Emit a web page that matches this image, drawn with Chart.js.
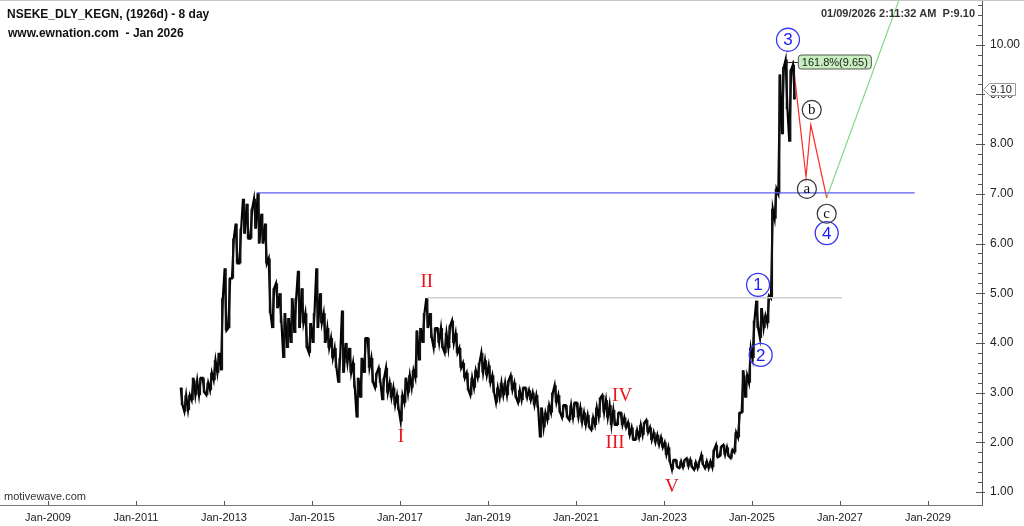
<!DOCTYPE html>
<html>
<head>
<meta charset="utf-8">
<script src="https://cdn.jsdelivr.net/npm/chart.js@4.4.1/dist/chart.umd.min.js"></script>
<style>
  html, body { margin: 0; padding: 0; background: #fff; }
  #wrap { width: 1024px; height: 526px; }
</style>
</head>
<body>
<div id="wrap"><canvas id="chart" width="1024" height="526"></canvas></div>
<script>
// ====== PRICE DATA: monthly low / high, one row per year from Jan 2012 ======
const firstYear = 2012;
const lows = [
  2.75, 2.62, 2.65, 2.85, 2.95, 2.95, 3.00, 2.95, 3.05, 3.25, 3.40, 3.45, // 2012
  4.25, 4.30, 5.30, 5.60, 5.60, 6.20, 6.10, 6.10, 6.30, 6.00, 6.00, 5.60, // 2013
  4.60, 4.30, 4.70, 4.40, 3.70, 3.90, 4.00, 4.20, 4.30, 4.40, 3.90, 3.80, // 2014
  4.00, 4.30, 4.40, 4.00, 3.90, 3.70, 3.50, 3.20, 3.40, 3.60, 3.40, 3.10, // 2015
  2.50, 2.90, 3.40, 3.50, 3.20, 3.10, 3.20, 2.85, 3.00, 2.90, 2.75, 2.65, // 2016
  2.42, 2.80, 3.00, 3.10, 3.30, 3.65, 4.00, 4.30, 4.10, 3.90, 4.00, 3.90, // 2017
  3.80, 3.90, 4.00, 3.80, 3.50, 3.30, 3.05, 2.95, 3.10, 3.30, 3.40, 3.35, // 2018
  3.20, 3.00, 2.80, 2.90, 2.95, 2.95, 3.05, 2.90, 2.80, 2.85, 2.90, 2.85, // 2019
  2.75, 2.70, 2.10, 2.30, 2.45, 2.60, 2.80, 2.60, 2.50, 2.50, 2.45, 2.50, // 2020
  2.50, 2.40, 2.35, 2.30, 2.25, 2.35, 2.50, 2.60, 2.50, 2.35, 2.35, 2.35, // 2021
  2.35, 2.30, 2.15, 2.05, 2.05, 2.10, 2.15, 2.20, 2.05, 2.00, 1.95, 1.90, // 2022
  1.75, 1.60, 1.45, 1.50, 1.48, 1.50, 1.52, 1.50, 1.45, 1.48, 1.55, 1.48, // 2023
  1.48, 1.50, 1.70, 1.72, 1.75, 1.72, 1.68, 1.80, 2.10, 2.60, 2.90, 3.20, // 2024
  3.70, 4.30, 4.10, 4.30, 4.40, 4.90, 6.50, 7.00, 8.20, 8.70, 8.05, 8.90  // 2025
];
const highs = [
  3.10, 2.95, 2.95, 3.30, 3.25, 3.30, 3.30, 3.20, 3.40, 3.65, 3.80, 4.90, // 2012
  5.50, 5.30, 6.10, 6.40, 6.30, 6.90, 6.80, 6.70, 6.90, 7.02, 6.60, 6.40, // 2013
  5.70, 5.10, 5.20, 5.00, 4.60, 4.50, 4.90, 4.90, 5.45, 5.10, 4.60, 4.40, // 2014
  4.60, 5.50, 5.00, 4.60, 4.30, 4.10, 3.90, 3.70, 4.65, 4.00, 3.90, 3.60, // 2015
  3.30, 3.70, 4.10, 4.10, 3.70, 3.40, 3.50, 3.30, 3.50, 3.20, 3.10, 2.95, // 2016
  2.95, 3.30, 3.35, 3.45, 4.25, 4.30, 4.60, 4.90, 4.60, 4.30, 4.30, 4.30, // 2017
  4.20, 4.35, 4.45, 4.20, 3.90, 3.60, 3.40, 3.30, 3.45, 3.60, 3.80, 3.65, // 2018
  3.55, 3.35, 3.10, 3.20, 3.20, 3.25, 3.35, 3.20, 3.05, 3.10, 3.10, 3.05, // 2019
  3.00, 2.95, 2.70, 2.60, 2.75, 3.00, 3.15, 2.95, 2.75, 2.75, 2.75, 2.80, // 2020
  2.80, 2.70, 2.60, 2.55, 2.50, 2.70, 2.90, 2.95, 2.85, 2.75, 2.65, 2.60, // 2021
  2.60, 2.50, 2.40, 2.30, 2.25, 2.35, 2.40, 2.45, 2.30, 2.20, 2.15, 2.10, // 2022
  2.00, 1.90, 1.65, 1.65, 1.62, 1.65, 1.68, 1.65, 1.60, 1.62, 1.75, 1.62, // 2023
  1.62, 1.85, 1.95, 1.92, 1.95, 1.90, 1.85, 2.20, 2.60, 3.45, 3.35, 3.90, // 2024
  4.45, 4.85, 4.70, 4.55, 4.95, 6.70, 7.10, 9.40, 9.55, 9.70, 9.50, 9.60  // 2025
];
const lastPrice = 9.10;

// ====== PROJECTION / LEVELS (decimal years, prices) ======
const wave4Years  = [2025.93, 2026.23, 2026.34, 2026.70];
const wave4Prices = [9.68, 7.34, 8.39, 6.92];
const wave5Years  = [2026.70, 2028.60];
const wave5Prices = [6.92, 11.52];
const topLevelYears = [2013.75, 2028.70];
const topLevel = 7.02;
const waveIIYears = [2017.62, 2027.05];
const waveIILevel = 4.91;
const fibLevel = 9.65;

// wave labels: text, year, price
const romanLabels = [
  ['I', 2017.02, 2.11], ['II', 2017.61, 5.23], ['III', 2021.89, 1.99],
  ['IV', 2022.05, 2.93], ['V', 2023.18, 1.10]
];
const impulseLabels = [
  ['1', 2025.14, 5.17], ['2', 2025.20, 3.76], ['3', 2025.82, 10.10], ['4', 2026.70, 6.21]
];
const abcLabels = [
  ['a', 2026.25, 7.10], ['b', 2026.36, 8.69], ['c', 2026.70, 6.60]
];

// ====== AXES ======
const xTickYears = [2009, 2011, 2013, 2015, 2017, 2019, 2021, 2023, 2025, 2027, 2029];
const yTickValues = [1, 2, 3, 4, 5, 6, 7, 8, 9, 10];

// monthly range bars, plus a stroke through each month's low and high so they read as one jagged line
const monthX = lows.map((_, i) => firstYear + i / 12 + 0.5 / 12);
const ranges = lows.map((lo, i) => ({ x: monthX[i], y: [lo, highs[i]] }));
const pricePath = [];
lows.forEach((lo, i) => {
  const hi = highs[i];
  const t = firstYear + i / 12;
  const next = i + 1 < lows.length ? (lows[i + 1] + highs[i + 1]) / 2 : lastPrice;
  const rising = next >= (lo + hi) / 2;
  pricePath.push({ x: t + 0.2 / 12, y: rising ? lo : hi });
  pricePath.push({ x: t + 0.7 / 12, y: rising ? hi : lo });
});
const pts = (xs, ys) => xs.map((x, i) => ({ x, y: Array.isArray(ys) ? ys[i] : ys }));

const SANS = '"Liberation Sans", Arial, sans-serif';
const SERIF = '"Liberation Serif", "Times New Roman", serif';

const overlay = {
  id: 'overlay',
  afterDraw(chart) {
    const { ctx, chartArea: a, scales: { x, y } } = chart;
    ctx.save();

    // top frame line
    ctx.strokeStyle = '#c4c4c4';
    ctx.lineWidth = 1;
    ctx.beginPath(); ctx.moveTo(0, 0.5); ctx.lineTo(1024, 0.5); ctx.stroke();

    // y tick marks (minor every 0.2)
    ctx.strokeStyle = '#555';
    for (let i = 0; i <= 50; i++) {
      const v = 1 + i * 0.2;
      if (v > y.max) break;
      const py = Math.round(y.getPixelForValue(v)) + 0.5;
      const major = i % 5 === 0;
      ctx.beginPath();
      ctx.moveTo(a.right - (major ? 6 : 4), py);
      ctx.lineTo(a.right + (major ? 3 : 0), py);
      ctx.stroke();
    }
    // x tick marks
    xTickYears.forEach(v => {
      const px = Math.round(x.getPixelForValue(v)) + 0.5;
      ctx.beginPath(); ctx.moveTo(px, a.bottom - 4); ctx.lineTo(px, a.bottom); ctx.stroke();
    });

    // roman labels
    ctx.fillStyle = '#e8141b';
    ctx.font = '19px ' + SERIF;
    ctx.textAlign = 'center';
    ctx.textBaseline = 'middle';
    romanLabels.forEach(([t, vx, vy]) => ctx.fillText(t, x.getPixelForValue(vx), y.getPixelForValue(vy)));

    // circled impulse labels
    ctx.strokeStyle = '#3535f5';
    ctx.fillStyle = '#2020f0';
    ctx.lineWidth = 1.3;
    ctx.font = '17px ' + SANS;
    impulseLabels.forEach(([t, vx, vy]) => {
      const px = x.getPixelForValue(vx), py = y.getPixelForValue(vy);
      ctx.beginPath(); ctx.arc(px, py, 11.5, 0, Math.PI * 2); ctx.stroke();
      ctx.fillText(t, px, py + 1);
    });

    // circled abc labels
    ctx.strokeStyle = '#333';
    ctx.fillStyle = '#111';
    ctx.lineWidth = 1.2;
    ctx.font = '15px ' + SERIF;
    abcLabels.forEach(([t, vx, vy]) => {
      const px = x.getPixelForValue(vx), py = y.getPixelForValue(vy);
      ctx.beginPath(); ctx.arc(px, py, 9.5, 0, Math.PI * 2); ctx.stroke();
      ctx.fillText(t, px, py);
    });

    // fib target tag
    const fy = Math.round(y.getPixelForValue(fibLevel)) + 0.5;
    const fx = x.getPixelForValue(wave4Years[0]);
    ctx.strokeStyle = '#222';
    ctx.lineWidth = 1;
    ctx.beginPath(); ctx.moveTo(fx - 6, fy); ctx.lineTo(fx + 5, fy); ctx.stroke();
    ctx.beginPath(); ctx.moveTo(fx - 6, fy - 3); ctx.lineTo(fx - 6, fy + 3); ctx.stroke();
    ctx.beginPath();
    ctx.roundRect(fx + 5.5, fy - 7.5, 73, 14, 3);
    ctx.fillStyle = '#c8efbf';
    ctx.fill();
    ctx.strokeStyle = '#555';
    ctx.stroke();
    ctx.fillStyle = '#222';
    ctx.font = '11px ' + SANS;
    ctx.textAlign = 'left';
    ctx.fillText('161.8%(' + fibLevel.toFixed(2) + ')', fx + 9, fy + 0.5);

    // last price marker
    const py = Math.round(y.getPixelForValue(lastPrice)) + 0.5;
    const rx = a.right + 1.5;
    ctx.beginPath();
    ctx.moveTo(rx, py);
    ctx.lineTo(rx + 6, py - 6);
    ctx.lineTo(rx + 32, py - 6);
    ctx.lineTo(rx + 32, py + 6);
    ctx.lineTo(rx + 6, py + 6);
    ctx.closePath();
    ctx.fillStyle = '#fff';
    ctx.fill();
    ctx.strokeStyle = '#999';
    ctx.stroke();
    ctx.fillStyle = '#222';
    ctx.fillText(lastPrice.toFixed(2), rx + 7, py + 0.5);

    // header texts
    ctx.fillStyle = '#111';
    ctx.font = 'bold 12px ' + SANS;
    ctx.textBaseline = 'alphabetic';
    ctx.fillText('NSEKE_DLY_KEGN, (1926d) - 8 day', 7, 18);
    ctx.fillText('www.ewnation.com  - Jan 2026', 8, 37);
    ctx.fillStyle = '#333';
    ctx.font = 'bold 11px ' + SANS;
    ctx.textAlign = 'right';
    ctx.fillText('01/09/2026 2:11:32 AM  P:' + lastPrice.toFixed(2), 975, 17);
    ctx.textAlign = 'left';
    ctx.font = '11px ' + SANS;
    ctx.fillText('motivewave.com', 4, 500);

    ctx.restore();
  }
};

const ctx = document.getElementById('chart').getContext('2d');
new Chart(ctx, {
  type: 'line',
  data: {
    datasets: [
      { data: pts(topLevelYears, topLevel), borderColor: '#5c5cf2', borderWidth: 1.3, pointRadius: 0 },
      { data: pts(waveIIYears, waveIILevel), borderColor: '#cfcfcf', borderWidth: 1.3, pointRadius: 0 },
      { type: 'bar', data: ranges, backgroundColor: '#111', borderWidth: 0, barPercentage: 0.55, categoryPercentage: 1 },
      { data: pricePath, borderColor: '#000', borderWidth: 2.2, pointRadius: 0, tension: 0 },
      { data: pts(wave4Years, wave4Prices), borderColor: '#ff2a2a', borderWidth: 1.2, pointRadius: 0 },
      { data: pts(wave5Years, wave5Prices), borderColor: '#86d886', borderWidth: 1.2, pointRadius: 0 }
    ]
  },
  options: {
    responsive: false,
    animation: false,
    devicePixelRatio: 1,
    layout: { padding: 0 },
    plugins: { legend: { display: false }, tooltip: { enabled: false } },
    scales: {
      x: {
        type: 'linear',
        min: 2007.91,
        max: 2030.23,
        offset: false,
        afterFit: s => { s.height = 21; s.paddingLeft = 0; s.paddingRight = 0; },
        afterBuildTicks: s => { s.ticks = xTickYears.map(v => ({ value: v })); },
        grid: { display: false, drawTicks: false },
        border: { display: true, color: '#777' },
        ticks: { callback: v => 'Jan-' + v, color: '#222', font: { family: SANS, size: 11 }, padding: 6, maxRotation: 0, autoSkip: false }
      },
      y: {
        type: 'linear',
        position: 'right',
        min: 0.74,
        max: 10.9,
        afterFit: s => { s.width = 42; s.paddingTop = 0; s.paddingBottom = 0; },
        afterBuildTicks: s => { s.ticks = yTickValues.map(v => ({ value: v })); },
        grid: { display: false, drawTicks: false },
        border: { display: true, color: '#555' },
        ticks: { callback: v => v.toFixed(2), color: '#222', font: { family: SANS, size: 12 }, padding: 8 }
      }
    }
  },
  plugins: [overlay]
});
</script>
</body>
</html>
